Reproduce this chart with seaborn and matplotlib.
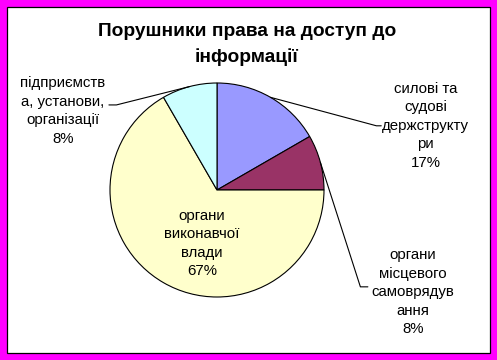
import matplotlib
matplotlib.use("Agg")
import matplotlib.pyplot as plt
from matplotlib.patches import Rectangle
import numpy as np
import seaborn as sns

# data (counts give 17 / 8 / 67 / 8 %)
categories = [
    "силові та\nсудові\nдержструкту\nри",
    "органи\nмісцевого\nсамоврядув\nання",
    "органи\nвиконавчої\nвлади",
    "підприємств\nа, установи,\nорганізації",
]
counts = [2, 1, 8, 1]
colors = ["#9999FF", "#993366", "#FFFFCC", "#CCFFFF"]
title = "Порушники права на доступ до\nінформації"

sns.set_theme(style="white")
plt.rcParams["font.family"] = ["Liberation Sans", "DejaVu Sans"]
plt.rcParams["text.color"] = "black"

W, H = 497, 360
fig = plt.figure(figsize=(W / 100, H / 100), dpi=100, facecolor="#FF00FF")

# white chart area with thin black frame inside the magenta border
fig.patches.append(Rectangle((7 / W, 7 / H), (490 - 7) / W, (353 - 7) / H,
                             transform=fig.transFigure, facecolor="white",
                             edgecolor="black", lw=0.9, zorder=-5))

# pie: centre (217,190) px, radius 107 px
ax = fig.add_axes([110 / W, (H - 297) / H, 214 / W, 214 / H])
ax.set_zorder(2)
wedges, _ = ax.pie(counts, colors=colors, startangle=90, counterclock=False,
                   radius=1, wedgeprops=dict(edgecolor="black", linewidth=0.8))
ax.set_xlim(-1, 1)
ax.set_ylim(-1, 1)
ax.set_aspect("equal")
ax.axis("off")

total = sum(counts)
pcts = [round(100 * c / total) for c in counts]

# label layout (data units, 1 unit = pie radius)
label_pos = [(1.95, 0.60), (1.83, -0.955), (-0.14, -0.50), (-1.44, 0.74)]
leader_end = [[(1.49, 0.60), (1.535, 0.60)],
              [(1.34, -0.905), (1.41, -0.905)],
              None,
              [(-0.94, 0.795), (-1.01, 0.795)]]

for w, name, pct, pos, lead in zip(wedges, categories, pcts, label_pos, leader_end):
    ax.text(pos[0], pos[1], f"{name}\n{pct}%", ha="center", va="center",
            multialignment="center", fontsize=10.8, color="black",
            linespacing=1.42)
    if lead is not None:
        mid = np.deg2rad((w.theta1 + w.theta2) / 2)
        xs = [np.cos(mid)] + [p[0] for p in lead]
        ys = [np.sin(mid)] + [p[1] for p in lead]
        ax.plot(xs, ys, color="black", lw=0.8, clip_on=False)

fig.text(247 / W, 1 - 44 / H, title, ha="center", va="center", color="black",
         fontsize=13.8, fontweight="bold", linespacing=1.6)

fig.savefig("out.png", dpi=100, facecolor=fig.get_facecolor())
